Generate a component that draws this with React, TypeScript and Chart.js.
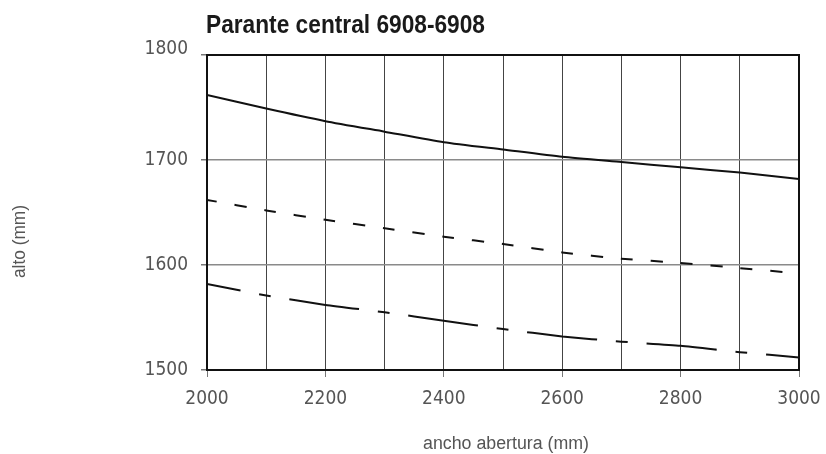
import React, { useEffect, useRef } from "react";
import { Chart, registerables } from "chart.js";

Chart.register(...registerables);

const TITLE = "Parante central 6908-6908";
const X_TITLE = "ancho abertura (mm)";
const Y_TITLE = "alto (mm)";

const X_VALUES = [2000, 2100, 2200, 2300, 2400, 2500, 2600, 2700, 2800, 2900, 3000];
const SOLID = [1762, 1749, 1737, 1727, 1717, 1710, 1703, 1698, 1693, 1688, 1682];
const SHORT_DASH = [1662, 1652, 1643, 1635, 1627, 1620, 1612, 1606, 1602, 1597, 1592];
const LONG_DASH = [1582, 1571, 1562, 1555, 1547, 1539, 1532, 1527, 1523, 1517, 1512];

const X_MIN = 2000;
const X_MAX = 3000;
const Y_MIN = 1500;
const Y_MAX = 1800;

const TICK_FONT = "'DejaVu Sans Condensed', 'Roboto', sans-serif";
const TEXT_FONT = "'Liberation Sans', Arial, sans-serif";

const toPoints = (ys: number[]) => X_VALUES.map((x, i) => ({ x, y: ys[i] }));

function fitText(ctx: CanvasRenderingContext2D, text: string, x: number, y: number, width: number) {
  const natural = ctx.measureText(text).width;
  const sx = width / natural;
  ctx.save();
  ctx.translate(x, y);
  ctx.scale(sx, 1);
  ctx.fillText(text, 0, 0);
  ctx.restore();
}

const framePlugin = {
  id: "frameAndTitles",
  beforeDraw(chart: any) {
    const yScale = chart.scales.y;
    if (yScale && yScale.getLabelItems) {
      const items = yScale.getLabelItems(chart.chartArea);
      items.forEach((it: any) => {
        if (String(it.label) === String(Y_MAX) && !it.__shifted) {
          it.options.translation[1] -= 6;
          it.__shifted = true;
        }
      });
    }
  },
  afterDraw(chart: any) {
    const { ctx, chartArea } = chart;
    const { left, right, top, bottom } = chartArea;
    ctx.save();
    ctx.strokeStyle = "#111";
    ctx.lineWidth = 2;
    ctx.strokeRect(left, top, right - left, bottom - top);

    ctx.fillStyle = "#1a1a1a";
    ctx.font = `bold 25px ${TEXT_FONT}`;
    ctx.textAlign = "left";
    ctx.textBaseline = "alphabetic";
    fitText(ctx, TITLE, left - 1, 33, 279);

    ctx.fillStyle = "#555";
    ctx.font = `18px ${TEXT_FONT}`;
    ctx.textAlign = "left";
    ctx.textBaseline = "alphabetic";
    fitText(ctx, X_TITLE, 423, 449, 166);

    ctx.save();
    ctx.translate(25, 278);
    ctx.rotate(-Math.PI / 2);
    fitText(ctx, Y_TITLE, 0, 0, 73);
    ctx.restore();
    ctx.restore();
  },
};

export default function App() {
  const canvasRef = useRef<HTMLCanvasElement | null>(null);

  useEffect(() => {
    document.body.style.margin = "0";
    const canvas = canvasRef.current;
    if (!canvas) return;
    const chart = new Chart(canvas, {
      type: "line",
      data: {
        datasets: [
          {
            label: "solid",
            data: toPoints(SOLID),
            borderColor: "#111",
            borderWidth: 2,
            pointRadius: 0,
            tension: 0.2,
          },
          {
            label: "short dash",
            data: toPoints(SHORT_DASH),
            borderColor: "#111",
            borderWidth: 2,
            borderDash: [12, 18],
            borderDashOffset: 2,
            pointRadius: 0,
            tension: 0.2,
          },
          {
            label: "long dash",
            data: toPoints(LONG_DASH),
            borderColor: "#111",
            borderWidth: 2,
            borderDash: [70, 19, 12, 19],
            borderDashOffset: 36,
            pointRadius: 0,
            tension: 0.2,
          },
        ],
      },
      options: {
        animation: false,
        responsive: false,
        maintainAspectRatio: false,
        layout: { padding: { left: 0, top: 55, right: 27, bottom: 0 } },
        plugins: {
          legend: { display: false },
          tooltip: { enabled: false },
          title: { display: false },
        },
        scales: {
          x: {
            type: "linear",
            min: X_MIN,
            max: X_MAX,
            afterFit: (scale: any) => {
              scale.height = 84;
              scale.paddingLeft = 0;
              scale.paddingRight = 0;
            },
            border: { display: false },
            grid: {
              color: "#444",
              lineWidth: 1,
              tickLength: 7,
              tickColor: (ctx: any) =>
                ctx.tick && ctx.tick.value % 200 === 0 ? "#777" : "rgba(0,0,0,0)",
            },
            ticks: {
              stepSize: 100,
              autoSkip: false,
              maxRotation: 0,
              padding: 11,
              color: "#555",
              font: { family: TICK_FONT, size: 19 },
              callback: (v: any) => (Number(v) % 200 === 0 ? String(v) : ""),
            },
          },
          y: {
            type: "linear",
            min: Y_MIN,
            max: Y_MAX,
            afterFit: (scale: any) => {
              scale.width = 207;
              scale.paddingTop = 0;
              scale.paddingBottom = 0;
            },
            border: { display: false },
            grid: {
              color: "#8a8a8a",
              lineWidth: 1.5,
              tickLength: 6,
              tickColor: "#777",
            },
            ticks: {
              stepSize: 100,
              padding: 13,
              color: "#555",
              font: { family: TICK_FONT, size: 19 },
              callback: (v: any) => String(v),
            },
          },
        },
      },
      plugins: [framePlugin],
    });
    return () => chart.destroy();
  }, []);

  return (
    <div style={{ width: 826, height: 454, background: "#fff" }}>
      <canvas ref={canvasRef} width={826} height={454} style={{ display: "block" }} />
    </div>
  );
}
